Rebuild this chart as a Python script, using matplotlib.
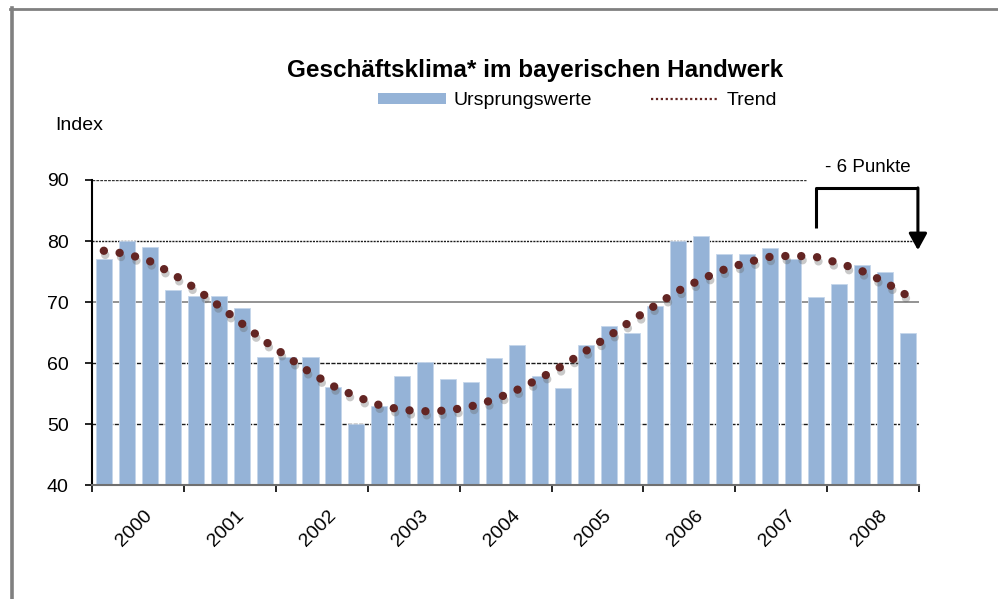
import numpy as np
import matplotlib
matplotlib.use("Agg")
import matplotlib.pyplot as plt
import matplotlib.patheffects as pe
from matplotlib.lines import Line2D
from matplotlib.patches import Patch
from matplotlib.transforms import blended_transform_factory

plt.rcParams["font.family"] = ["Liberation Sans", "DejaVu Sans"]

BAR_COLOR = "#95B3D7"
TREND_COLOR = "#632523"

years = ["2000", "2001", "2002", "2003", "2004", "2005", "2006", "2007", "2008"]

# quarterly original values (Ursprungswerte), 4 per year
original = [77, 80, 79, 72,
            71, 71, 69, 61,
            61, 61, 56, 50,
            53, 57.8, 60.2, 57.4,
            56.9, 60.9, 62.9, 57.8,
            55.9, 62.9, 66, 65,
            69.3, 80, 80.9, 77.9,
            77.9, 78.9, 77, 70.9,
            73, 76, 74.9, 65]

# smoothed trend, one value per quarter
trend = [78.4, 77.9, 76.7, 74.6,
         72.2, 69.4, 66.5, 63.6,
         61.0, 58.4, 56.2, 54.5,
         53.1, 52.3, 52.1, 52.2,
         52.9, 54.0, 55.6, 57.5,
         59.6, 62.0, 64.4, 67.0,
         69.4, 71.8, 73.7, 75.3,
         76.5, 77.4, 77.6, 77.4,
         76.4, 75.1, 73.3, 71.0]

y_ticks = [40, 50, 60, 70, 80, 90]

fig = plt.figure(figsize=(9.98, 5.99), dpi=100)
fig.patch.set_facecolor("white")
ax = fig.add_axes([0.0925, 0.1903, 0.8284, 0.5092])

x = np.arange(len(original))

# gridlines behind the bars (Excel look: some dotted, the 70 line solid grey)
grid_style = {
    50: dict(color="#1a1a1a", lw=1.0, ls=(0, (3, 1))),
    60: dict(color="#1a1a1a", lw=1.0, ls=(0, (3, 1))),
    70: dict(color="#808080", lw=1.2, ls="-"),
    80: dict(color="#1a1a1a", lw=1.0, ls=(0, (1.5, 0.8))),
    90: dict(color="#333333", lw=1.0, ls=(0, (2, 0.8))),
}
for yv, st in grid_style.items():
    xmax = 0.863 if yv == 90 else 1.0
    ax.axhline(yv, xmin=0, xmax=xmax, zorder=0, **st)

ax.bar(x, original, width=0.70, color=BAR_COLOR, edgecolor="#C5D6EB", linewidth=0.6, zorder=2)

ax.plot(x, trend, color=TREND_COLOR, lw=6, linestyle=(0, (0.01, 1.9)),
        dash_capstyle="round", zorder=4,
        path_effects=[pe.SimpleLineShadow(offset=(1, -3), shadow_color="#666666", alpha=0.35),
                      pe.Normal()])

ax.set_xlim(-0.5, len(original) - 0.5)
ax.set_ylim(40, 90)
ax.set_yticks(y_ticks)
ax.tick_params(axis="y", direction="out", length=5, width=1.2, pad=12,
               labelsize=14, colors="black")

# year boundaries as tick marks, labels at year centres
bounds = np.arange(-0.5, len(original), 4)
ax.set_xticks(bounds)
ax.set_xticklabels([])
ax.tick_params(axis="x", direction="out", length=5, width=1.2)

trans = blended_transform_factory(ax.transData, ax.transAxes)
centers = np.arange(len(years)) * 4 + 1.5
for c, yr in zip(centers, years):
    ax.text(c + 0.5, -0.092, yr, transform=trans, rotation=45,
            rotation_mode="anchor", ha="right", va="center", fontsize=14)

for side in ("top", "right"):
    ax.spines[side].set_visible(False)
ax.spines["left"].set_linewidth(1.5)
ax.spines["left"].set_color("black")
ax.spines["bottom"].set_linewidth(1.5)
ax.spines["bottom"].set_color("#707070")

# "- 6 Punkte" bracket
x_left = len(original) - 5
x_right = len(original) - 1 + 0.45
ax.plot([x_left, x_left, x_right], [82.1, 88.7, 88.7], color="black", lw=2.2,
        clip_on=False, zorder=5, solid_capstyle="butt")
ax.annotate("", xy=(x_right, 78.5), xytext=(x_right, 88.7),
            arrowprops=dict(arrowstyle="-|>,head_length=1.0,head_width=0.55",
                            color="black", lw=2.2, shrinkA=0, shrinkB=0),
            zorder=5, annotation_clip=False)
ax.text((x_left + x_right) / 2 + 0.05, 92.1, "- 6 Punkte", ha="center", va="center",
        fontsize=13.5)

# title, legend, axis caption
fig.text(0.536, 0.883, "Geschäftsklima* im bayerischen Handwerk", ha="center",
         va="center", fontsize=17.5, fontweight="bold")
fig.text(0.055, 0.79, "Index", ha="left", va="center", fontsize=14)

handles = [Patch(facecolor=BAR_COLOR, edgecolor="none", label="Ursprungswerte"),
           Line2D([], [], color=TREND_COLOR, lw=1.6, linestyle=(0, (1, 1.2)), label="Trend")]
fig.legend(handles=handles, loc="center", bbox_to_anchor=(0.5787, 0.8314), ncol=2,
           frameon=False, fontsize=14, handlelength=3.5, handleheight=0.5,
           handletextpad=0.4, columnspacing=3.0)

# outer frame (top and left edges only, as in the original screenshot)
fig.add_artist(Line2D([10 / 998, 1.0], [1 - 9 / 599, 1 - 9 / 599], color="#808080", lw=2,
                      transform=fig.transFigure))
fig.add_artist(Line2D([12 / 998, 12 / 998], [0, 1 - 8 / 599], color="#808080", lw=2.6,
                      transform=fig.transFigure))

fig.savefig("out.png", dpi=100, facecolor="white")
plt.close(fig)
